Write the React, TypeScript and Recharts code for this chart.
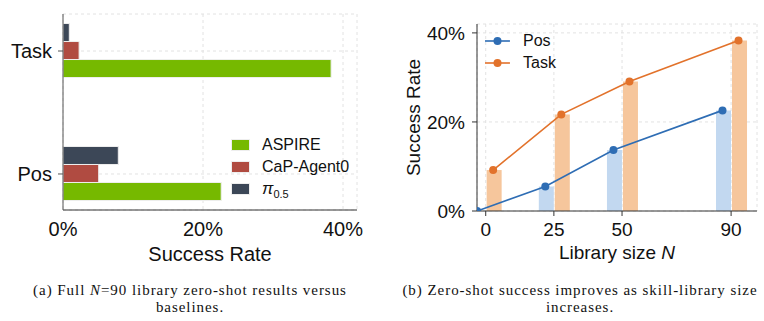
import {
  Bar,
  BarChart,
  CartesianGrid,
  ComposedChart,
  Label,
  Legend,
  Line,
  XAxis,
  YAxis,
} from "recharts";

// (a) full N=90 library vs baselines
const metrics = ["Task", "Pos"];
const metricSlots = [0, 1];
const aspireRate = [38.3, 22.6];
const capAgentRate = [2.3, 5.1];
const pi05Rate = [0.9, 7.9];
const rateTicks = [0, 20, 40];

// (b) success vs library size
const librarySizes = [0, 25, 50, 90];
const posRate = [0, 5.5, 13.7, 22.6];
const taskRate = [9.2, 21.7, 29.1, 38.3];
const sweepTicks = [0, 20, 40];

const SANS = "'Liberation Sans', Arial, sans-serif";
const SERIF = "'Liberation Serif', 'Times New Roman', serif";
const GRID = "#e2e2e2";
const AXIS = "#333";

const baselineSeries = [
  { key: "aspire", label: "ASPIRE", color: "#76b900" },
  { key: "cap", label: "CaP-Agent0", color: "#b04b41" },
  { key: "pi", label: "π0.5", color: "#3c4757" },
];

const sweepSeries = [
  { key: "pos", label: "Pos", line: "#2e6db4", bar: "#c2d8f0" },
  { key: "task", label: "Task", line: "#e2722b", bar: "#f6c69c" },
];

const baselineRows = metrics.map((metric, i) => ({
  metric,
  slot: metricSlots[i],
  aspire: aspireRate[i],
  cap: capAgentRate[i],
  pi: pi05Rate[i],
}));

const sweepRows = librarySizes.map((n, i) => ({
  n,
  pos: posRate[i],
  task: taskRate[i],
}));

// line markers sit on the centres of the dodged bars, so work out
// the dodge the same way the bar layout does
const SWEEP_W = 384;
const SWEEP_H = 266;
const SWEEP_LEFT = 97;
const SWEEP_RIGHT = 7;
const X_MIN = -3.2;
const X_MAX = 99.5;
const BAR_W = 15;
const BAR_GAP = 1;
const pxPerUnit = (SWEEP_W - SWEEP_LEFT - SWEEP_RIGHT) / (X_MAX - X_MIN);
const minGap = Math.min(
  ...librarySizes.slice(1).map((n, i) => n - librarySizes[i]),
);
const band = minGap * pxPerUnit;
const groupStart = -band / 2 + Math.floor((band - (2 * BAR_W + BAR_GAP)) / 2);
const POS_SHIFT = (groupStart + BAR_W / 2) / pxPerUnit;
const TASK_SHIFT = (groupStart + BAR_W + BAR_GAP + BAR_W / 2) / pxPerUnit;

const posPoints = librarySizes.map((n, i) => ({ n: n + POS_SHIFT, rate: posRate[i] }));
const taskPoints = librarySizes.map((n, i) => ({ n: n + TASK_SHIFT, rate: taskRate[i] }));

const pct = (v: number) => `${v}%`;

function seriesLabel(label: string) {
  if (label === "π0.5") {
    return (
      <span>
        <i style={{ fontSize: 17 }}>π</i>
        <sub style={{ fontSize: 11, verticalAlign: -4 }}>0.5</sub>
      </span>
    );
  }
  return label;
}

function BaselineLegend() {
  return (
    <div style={{ fontFamily: SANS, fontSize: 16, color: "#111" }}>
      {baselineSeries.map((s) => (
        <div
          key={s.key}
          style={{ display: "flex", alignItems: "center", height: 22 }}
        >
          <span
            style={{
              width: 17,
              height: 10,
              background: s.color,
              border: "1px solid #eee",
              marginRight: 12,
            }}
          />
          {seriesLabel(s.label)}
        </div>
      ))}
    </div>
  );
}

function SweepLegend() {
  return (
    <div style={{ fontFamily: SANS, fontSize: 16, color: "#111" }}>
      {sweepSeries.map((s) => (
        <div
          key={s.key}
          style={{ display: "flex", alignItems: "center", height: 22 }}
        >
          <svg width={25} height={10} style={{ marginRight: 13 }}>
            <line x1={0} y1={5} x2={25} y2={5} stroke={s.line} strokeWidth={1.6} />
            <circle cx={12.5} cy={5} r={4} fill={s.line} />
          </svg>
          {s.label}
        </div>
      ))}
    </div>
  );
}

function SizeAxisLabel(props: any) {
  const vb = props.viewBox;
  return (
    <text
      x={vb.x + vb.width / 2}
      y={vb.y + vb.height - 7}
      textAnchor="middle"
      fontSize={19}
      fill="#111"
    >
      Library size <tspan fontStyle="italic">N</tspan>
    </text>
  );
}

function Caption({ lines, left, width }: { lines: React.ReactNode[]; left: number; width: number }) {
  return (
    <div
      style={{
        position: "absolute",
        left,
        top: 282,
        width,
        textAlign: "center",
        fontFamily: SERIF,
        fontSize: 15,
        letterSpacing: 0.95,
        lineHeight: "17px",
        color: "#111",
      }}
    >
      {lines.map((line, i) => (
        <div key={i}>{line}</div>
      ))}
    </div>
  );
}

export default function App() {
  return (
    <div
      style={{
        position: "absolute",
        left: 0,
        top: 0,
        width: 764,
        height: 321,
        background: "#fff",
        fontFamily: SANS,
      }}
    >
      <div style={{ position: "absolute", left: 0, top: 0 }}>
        <BarChart
          width={380}
          height={266}
          data={baselineRows}
          layout="vertical"
          barGap={0}
          margin={{ top: 14, right: 23, left: 0, bottom: 0 }}
        >
          <CartesianGrid stroke={GRID} strokeDasharray="3 3" />
          <XAxis
            type="number"
            domain={[0, 42]}
            ticks={rateTicks}
            allowDataOverflow
            tickFormatter={pct}
            tick={{ fontSize: 20, fill: "#111" }}
            tickLine={false}
            tickSize={4}
            tickMargin={8}
            axisLine={{ stroke: AXIS }}
            height={56}
            label={{
              value: "Success Rate",
              position: "insideBottom",
              offset: 5,
              fontSize: 20,
              fill: "#111",
            }}
          />
          <YAxis
            type="number"
            dataKey="slot"
            domain={[-0.301, 1.293]}
            ticks={metricSlots}
            allowDataOverflow
            tickFormatter={(v: number) => metrics[metricSlots.indexOf(v)]}
            tick={{ fontSize: 20, fill: "#111" }}
            tickSize={5}
            tickMargin={6}
            tickLine={{ stroke: "#555" }}
            axisLine={{ stroke: "#555" }}
            width={63}
          />
          {/* drawn top to bottom inside each group */}
          {[...baselineSeries].reverse().map((s) => (
            <Bar
              key={s.key}
              dataKey={s.key}
              name={s.label}
              fill={s.color}
              stroke="#eeeeee"
              strokeWidth={1}
              barSize={18}
              isAnimationActive={false}
            />
          ))}
          <Legend
            layout="vertical"
            align="center"
            verticalAlign="middle"
            content={() => <BaselineLegend />}
            wrapperStyle={{ left: 231, top: 134, width: 140 }}
          />
        </BarChart>
      </div>

      <div style={{ position: "absolute", left: 380, top: 0 }}>
        <ComposedChart
          width={SWEEP_W}
          height={SWEEP_H}
          data={sweepRows}
          barGap={BAR_GAP}
          margin={{ top: 24, right: SWEEP_RIGHT, left: 0, bottom: 0 }}
        >
          <CartesianGrid stroke={GRID} strokeDasharray="3 3" />
          <XAxis
            type="number"
            dataKey="n"
            domain={[X_MIN, X_MAX]}
            ticks={librarySizes}
            allowDataOverflow
            tick={{ fontSize: 19, fill: "#111" }}
            tickSize={5}
            tickMargin={7}
            tickLine={{ stroke: AXIS }}
            axisLine={{ stroke: AXIS }}
            height={55}
          >
            <Label content={SizeAxisLabel} />
          </XAxis>
          <XAxis
            xAxisId="pts"
            type="number"
            dataKey="n"
            domain={[X_MIN, X_MAX]}
            allowDataOverflow
            hide
          />
          <YAxis
            type="number"
            domain={[0, 42]}
            ticks={sweepTicks}
            allowDataOverflow
            tickFormatter={pct}
            tick={{ fontSize: 19, fill: "#111" }}
            tickSize={5}
            tickMargin={7}
            tickLine={{ stroke: AXIS }}
            axisLine={{ stroke: AXIS }}
            width={SWEEP_LEFT}
            label={{
              value: "Success Rate",
              angle: -90,
              position: "insideLeft",
              offset: 33,
              fontSize: 19,
              fill: "#111",
              style: { textAnchor: "middle" },
            }}
          />
          {sweepSeries.map((s) => (
            <Bar
              key={s.key}
              dataKey={s.key}
              fill={s.bar}
              barSize={BAR_W}
              isAnimationActive={false}
            />
          ))}
          <Line
            xAxisId="pts"
            data={posPoints}
            dataKey="rate"
            stroke={sweepSeries[0].line}
            strokeWidth={1.6}
            dot={{ r: 4, fill: sweepSeries[0].line, strokeWidth: 0 }}
            activeDot={false}
            isAnimationActive={false}
          />
          <Line
            xAxisId="pts"
            data={taskPoints}
            dataKey="rate"
            stroke={sweepSeries[1].line}
            strokeWidth={1.6}
            dot={{ r: 4, fill: sweepSeries[1].line, strokeWidth: 0 }}
            activeDot={false}
            isAnimationActive={false}
          />
          <Legend
            layout="vertical"
            align="center"
            verticalAlign="middle"
            content={() => <SweepLegend />}
            wrapperStyle={{ left: 105, top: 30, width: 90 }}
          />
        </ComposedChart>
      </div>

      <Caption
        left={0}
        width={380}
        lines={[
          <span>
            (a) Full <i>N</i>=90 library zero-shot results versus
          </span>,
          "baselines.",
        ]}
      />
      <Caption
        left={380}
        width={400}
        lines={["(b) Zero-shot success improves as skill-library size", "increases."]}
      />
    </div>
  );
}
